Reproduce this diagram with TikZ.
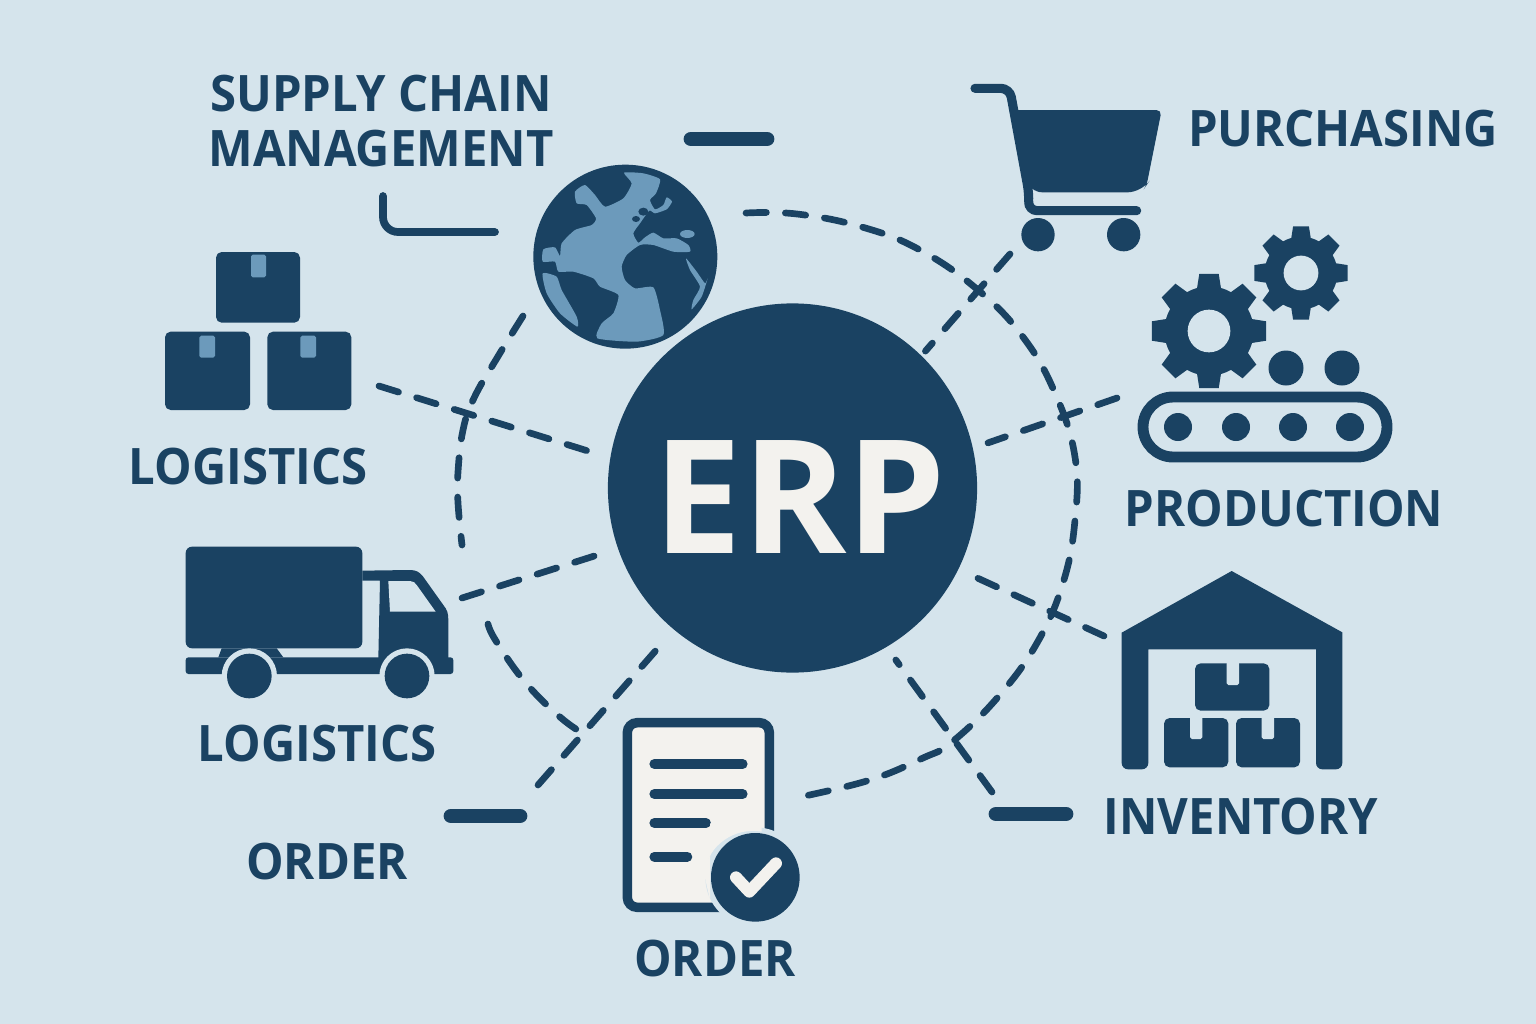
\documentclass[tikz,border=0pt]{standalone}
\usepackage{fontspec}
\setmainfont{Open Sans}
\newfontfamily\labelfont[FakeStretch=0.94]{Open Sans}
\definecolor{paleblue}{HTML}{D5E4EC}
\definecolor{navy}{HTML}{1A4262}
\definecolor{steel}{HTML}{6C9ABB}
\definecolor{paper}{HTML}{F3F2EE}
\tikzset{
    lbl/.style={text=navy,font=\labelfont\bfseries\fontsize{14.3}{15.7}\selectfont,inner sep=0pt,align=center},
    dashline/.style={navy,line width=1.9pt,line cap=round,dash pattern=on 5.8pt off 5.4pt},
    bar/.style={navy,line width=4.2pt,line cap=round},
    thinbar/.style={navy,line width=2.2pt,line cap=round,rounded corners=0.15cm},
    ink/.style={fill=navy},
    gap/.style={fill=paleblue},
    tapepiece/.style={fill=steel,rounded corners=0.5pt}
}
\newcommand{\gearicon}[3]{
    \begin{scope}[shift={(#1,#2)},scale=#3]
        \foreach \a in {0,45,...,315}{
            \fill[ink,rotate=\a] (-13,-40) -- (-10,-59) -- (10,-59) -- (13,-40) -- cycle;
        }
        \fill[ink] (0,0) circle (46);
        \fill[gap] (0,0) circle (22);
    \end{scope}
}
\newcommand{\cartonicon}[4]{
    \fill[ink,rounded corners=1.6pt] (#1,#2) rectangle (#3,#4);
}
\begin{document}
\begin{tikzpicture}[x=0.01cm,y=-0.01cm]
    \useasboundingbox (0,0) rectangle (1536,1024);
    \fill[paleblue] (0,0) rectangle (1536,1024);

    \node[circle,fill=navy,minimum size=3.69cm,inner sep=0pt,outer sep=0.16cm] (erp) at (792.5,488) {};
    \node[text=paper,font=\bfseries\fontsize{45}{45}\selectfont,inner sep=0pt] (erptext) at (800,497) {ERP};

    \node[lbl] (supply) at (381,121) {SUPPLY CHAIN\\MANAGEMENT};
    \node[lbl] (purchasing) at (1343,129) {PURCHASING};
    \node[lbl] (production) at (1284,509) {PRODUCTION};
    \node[lbl] (inventory) at (1241,817) {INVENTORY};
    \node[lbl] (boxlabel) at (248,467) {LOGISTICS};
    \node[lbl] (trucklabel) at (317,744) {LOGISTICS};
    \node[lbl] (orderleft) at (327,862) {ORDER};
    \node[lbl] (orderdoc) at (715,959) {ORDER};

    \coordinate (boxend) at (379,386);
    \coordinate (truckend) at (462,598);
    \coordinate (orderend) at (538,785);
    \coordinate (cartend) at (1010,254);
    \coordinate (gearend) at (1117,398);
    \coordinate (storeend) at (1104,636);
    \coordinate (barend) at (992,792);

    \draw[dashline] (boxend) -- (erp.170);
    \draw[dashline] (truckend) -- (erp.199);
    \draw[dashline] (orderend) -- (erp.230);
    \draw[dashline,shorten >=-2.8pt] (cartend) -- (erp.46.5);
    \draw[dashline] (gearend) -- (erp.13);
    \draw[dashline] (storeend) -- (erp.334.8);
    \draw[dashline] (barend) -- (erp.301);

    \draw[dashline] plot[smooth,tension=0.7] coordinates {(746,213) (797,214) (862,227) (920,250) (978,290) (1023,337) (1055,393) (1075,457) (1075,520) (1063,583) (1037,643) (998,697) (952,742) (923,758) (870,780) (800,797)};
    \draw[dashline] plot[smooth,tension=0.7] coordinates {(523,316) (497,358) (474,398) (463,430) (458,472) (458,503) (462,545)};
    \draw[dashline] plot[smooth,tension=0.7] coordinates {(488,624) (496,641) (525,682) (560,717) (584,734)};

    \draw[bar] (691,139) -- (767,139);
    \draw[bar] (451,816) -- (520,816);
    \draw[bar] (996,814) -- (1066,814);
    \draw[thinbar] (383,196) -- (383,232) -- (495,232);

    %globe
    \begin{scope}[shift={(520,150)},scale=1/3]
        \fill[navy] (316,320) circle (276);
        \fill[steel] plot[smooth cycle,tension=0.35] coordinates {(312,68) (370,70) (420,88) (408,130) (390,150) (405,178) (430,165) (440,142) (456,155) (440,178) (405,190) (388,182) (360,220) (340,250) (355,278) (375,262) (400,248) (430,265) (470,265) (505,285) (510,305) (460,305) (400,285) (360,285) (320,315) (305,350) (315,390) (345,415) (400,412) (420,480) (430,555) (350,575) (232,565) (245,520) (280,490) (295,435) (240,410) (220,385) (160,365) (115,365) (105,335) (68,335) (70,298) (105,292) (120,318) (125,280) (165,240) (215,225) (228,205) (200,165) (170,160) (165,125) (195,105) (225,135) (255,170) (310,145) (335,100)};
        \fill[navy] (370,185) ellipse (15 and 12);
        \fill[navy] (348,207) ellipse (12 and 9);
        \fill[steel] (502,252) ellipse (22 and 12);
        \fill[steel] plot[smooth cycle,tension=0.35] coordinates {(498,325) (530,365) (555,400) (563,385) (545,440) (515,478) (520,450) (540,410) (510,360)};
        \fill[steel] plot[smooth cycle,tension=0.35] coordinates {(68,370) (110,380) (125,420) (170,500) (172,530) (120,490) (80,430)};
    \end{scope}

    %cartons
    \begin{scope}[shift={(150,240)},scale=1/3]
        \cartonicon{198}{36}{450}{248}
        \cartonicon{45}{275}{300}{510}
        \cartonicon{352}{275}{604}{510}
        \fill[tapepiece] (303,44) rectangle (348,112);
        \fill[tapepiece] (148,287) rectangle (195,353);
        \fill[tapepiece] (451,287) rectangle (498,353);
    \end{scope}

    %truck
    \begin{scope}[shift={(170,530)},scale=1/3]
        \fill[ink,rounded corners=1.8pt] (47,355) -- (47,50) -- (577,50) -- (577,355) -- cycle;
        \fill[ink,rounded corners=0.8pt] (47,382) rectangle (850,432);
        \fill[ink] (145,382) -- (155,355) -- (320,355) -- (340,382) -- cycle;
        \fill[ink] (577,122) -- (720,120) .. controls (738,120) and (748,126) .. (758,138) -- (820,225) .. controls (832,240) and (835,250) .. (835,270) -- (835,385) -- (625,385) -- (630,152) -- (577,152) -- cycle;
        \fill[gap] (655,153) -- (720,153) .. controls (730,153) and (735,158) .. (740,165) -- (797,245) -- (660,245) -- cycle;
        \foreach \wx in {238,711}{
            \fill[gap] (\wx,438) circle (83);
            \fill[ink] (\wx,438) circle (67);
        }
    \end{scope}

    %cart
    \begin{scope}[shift={(960,70)},scale=1/3]
        \fill[ink] (165,120) [rounded corners=1.5pt] -- (605,120) -- (560,345) [rounded corners=4pt] -- (545,367) -- (205,367) [sharp corners] -- cycle;
        \draw[navy,line width=2.6pt,line cap=round,rounded corners=2.5pt] (45,55) -- (149,55) -- (207,370) -- (205,422) -- (530,422);
        \fill[ink] (234,494) circle (50);
        \fill[ink] (491,494) circle (50);
    \end{scope}

    %gears and belt
    \gearicon{1209}{331}{0.97}
    \gearicon{1301}{273}{0.79}
    \fill[ink] (1286,368) circle (17.5);
    \fill[ink] (1342,368) circle (17.5);
    \draw[navy,line width=3.1pt,rounded corners=0.3cm] (1143,397) rectangle (1387,457);
    \foreach \dotx in {1178,1236,1293,1350}{
        \fill[ink] (\dotx,427) circle (14);
    }

    %warehouse
    \begin{scope}[shift={(1110,560)},scale=1/3]
        \fill[ink] (35,218) -- (365,33) -- (697,217) [rounded corners=1.8pt] -- (697,628) -- (618,628) [sharp corners] -- (618,268) -- (115,268) [rounded corners=1.8pt] -- (115,628) -- (35,628) [sharp corners] -- cycle;
        \cartonicon{255}{310}{478}{452}
        \cartonicon{162}{474}{355}{622}
        \cartonicon{378}{474}{570}{622}
        \fill[gap,rounded corners=0.5pt] (350,305) rectangle (387,375);
        \fill[gap,rounded corners=0.5pt] (240,469) rectangle (277,537);
        \fill[gap,rounded corners=0.5pt] (455,469) rectangle (492,537);
    \end{scope}

    %order sheet
    \begin{scope}[shift={(610,710)},scale=1/3]
        \draw[navy,fill=paper,line width=2.7pt,rounded corners=2.8pt] (52,38) rectangle (478,592);
        \foreach \ly/\lx in {162/398,252/398,339/288,440/232}{
            \draw[navy,line width=2.8pt,line cap=round] (133,\ly) -- (\lx,\ly);
        }
        \fill[gap] (436,502) circle (150);
        \fill[paper] (300,340) -- (455,340) -- (455,365) arc (-80:-170:150) -- (300,570) -- cycle;
        \fill[ink] (436,502) circle (133);
        \draw[paper,line width=3.4pt,line cap=round,line join=round] (378,502) -- (418,545) -- (498,460);
    \end{scope}
\end{tikzpicture}
\end{document}
